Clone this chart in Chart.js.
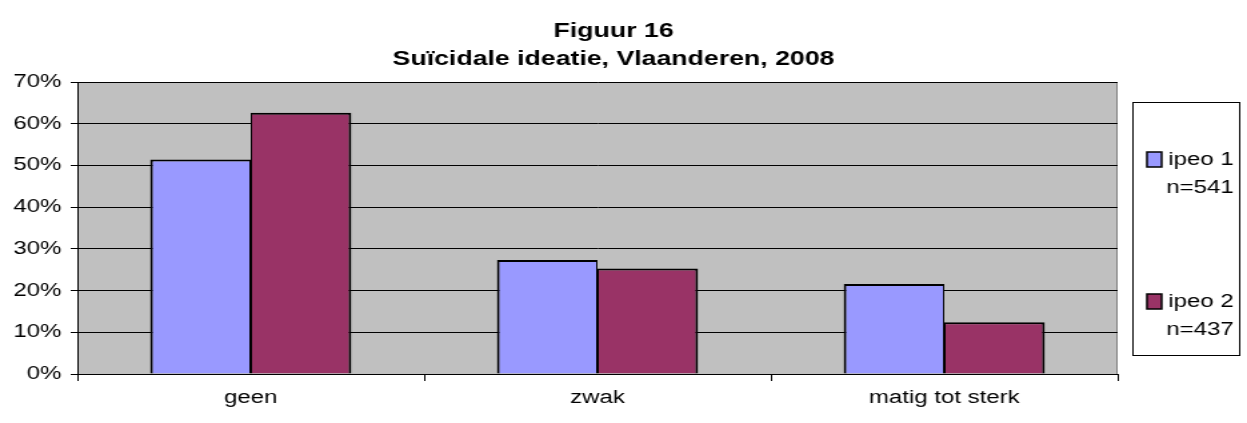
<!DOCTYPE html>
<html lang="nl">
<head>
<meta charset="UTF-8">
<title>Figuur 16</title>
<style>
  html, body { margin: 0; padding: 0; background: #fff; overflow: hidden; }
  /* the original figure is stretched horizontally, so draw narrow and scale out */
  #wrap { width: 935px; height: 423px; position: relative;
          transform: scaleX(1.3337); transform-origin: 0 0; }
</style>
</head>
<body>
<div id="wrap"><canvas id="myCanvas"></canvas></div>

<script src="https://cdn.jsdelivr.net/npm/chart.js@4/dist/chart.umd.min.js"></script>
<script>
// data
const categories = ['geen', 'zwak', 'matig tot sterk'];
const ipeo1 = [51.4, 27.3, 21.6];
const ipeo2 = [62.6, 25.3, 12.4];
const seriesLabels = [['ipeo 1', 'n=541'], ['ipeo 2', 'n=437']];
const titleLines = ['Figuur 16', 'Suïcidale ideatie, Vlaanderen, 2008'];

const FONT = 'Liberation Sans, Arial, sans-serif';

// grey plot area + title + boxed legend
const decor = {
  id: 'decor',
  beforeDraw(chart) {
    const { ctx, chartArea: a } = chart;
    ctx.save();
    ctx.fillStyle = '#c0c0c0';
    ctx.fillRect(a.left, a.top, a.right - a.left, a.bottom - a.top);
    ctx.strokeStyle = '#808080';
    ctx.lineWidth = 1;
    ctx.strokeRect(a.left + 0.5, a.top + 0.5, a.right - a.left - 1, a.bottom - a.top);
    ctx.restore();
  },
  afterDraw(chart) {
    const { ctx } = chart;
    ctx.save();
    // title
    ctx.fillStyle = '#000';
    ctx.font = 'bold 20px ' + FONT;
    ctx.textAlign = 'center';
    ctx.textBaseline = 'middle';
    ctx.fillText(titleLines[0], 460, 31);
    ctx.fillText(titleLines[1], 460, 59);

    // legend box
    ctx.fillStyle = '#fff';
    ctx.fillRect(849, 102, 81, 253);
    ctx.strokeStyle = '#000';
    ctx.lineWidth = 1;
    ctx.strokeRect(849.5, 102.5, 80, 253);

    const ys = [160, 302];
    ctx.font = '18px ' + FONT;
    chart.data.datasets.forEach((ds, i) => {
      const y = ys[i];
      ctx.fillStyle = ds.backgroundColor;
      ctx.fillRect(860, y - 8, 11, 15);
      ctx.strokeStyle = '#000';
      ctx.lineWidth = 1.5;
      ctx.strokeRect(860, y - 8, 11, 15);
      ctx.fillStyle = '#000';
      ctx.textAlign = 'right';
      ctx.fillText(seriesLabels[i][0], 925, y);
      ctx.fillText(seriesLabels[i][1], 925, y + 28);
    });
    ctx.restore();
  }
};

let ctx = document.getElementById('myCanvas').getContext('2d');
var chart = new Chart(ctx, {
  type: 'bar',
  data: {
    labels: categories,
    datasets: [{
      label: seriesLabels[0].join(' '),
      data: ipeo1,
      backgroundColor: '#9999ff',
      borderColor: '#000',
      borderWidth: { top: 2, left: 2, right: 1, bottom: 0 },
      borderSkipped: 'bottom'
    }, {
      label: seriesLabels[1].join(' '),
      data: ipeo2,
      backgroundColor: '#993366',
      borderColor: '#000',
      borderWidth: { top: 2, left: 1, right: 2, bottom: 0 },
      borderSkipped: 'bottom'
    }]
  },
  options: {
    responsive: true,
    maintainAspectRatio: false,
    devicePixelRatio: 1,
    animation: false,
    layout: { padding: { top: 82, right: 97, left: 0, bottom: 0 } },
    plugins: {
      legend: { display: false },
      title: { display: false },
      tooltip: { enabled: false }
    },
    datasets: {
      bar: { categoryPercentage: 0.58, barPercentage: 1 }
    },
    scales: {
      x: {
        grid: {
          offset: true,
          drawOnChartArea: false,
          color: '#000',
          tickLength: 7
        },
        border: { color: '#000', width: 1 },
        ticks: {
          color: '#000',
          font: { family: FONT, size: 18 },
          padding: 6,
          maxRotation: 0
        },
        afterFit(scale) { scale.height = 49; }
      },
      y: {
        min: 0,
        max: 70,
        ticks: {
          stepSize: 10,
          color: '#000',
          font: { family: FONT, size: 18 },
          padding: 7,
          callback: v => v + '%'
        },
        grid: { color: '#000', tickLength: 5 },
        border: { color: '#000', width: 1 },
        afterFit(scale) { scale.width = 58; }
      }
    }
  },
  plugins: [decor]
});
</script>
</body>
</html>
